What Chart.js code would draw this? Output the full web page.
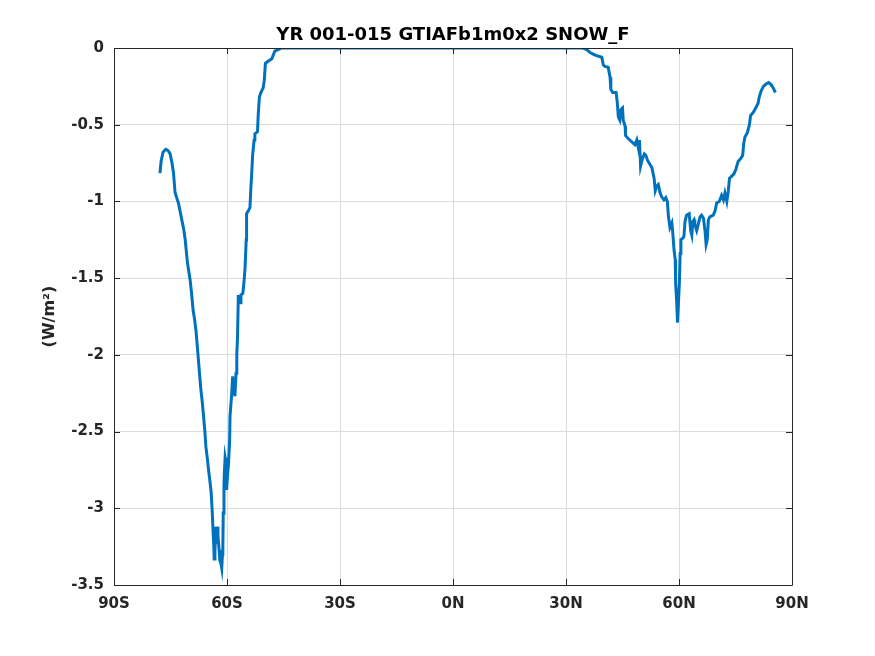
<!DOCTYPE html>
<html>
<head>
<meta charset="utf-8">
<script src="https://cdn.jsdelivr.net/npm/chart.js@4/dist/chart.umd.min.js"></script>
<style>
  html, body { margin: 0; padding: 0; background: #fff; }
  #wrap { width: 875px; height: 656px; }
</style>
</head>
<body>
<div id="wrap"><canvas id="chart-snow"></canvas></div>
<script>
// zonal mean SNOW_F (W/m2) against latitude (deg, negative = south)
const lats = [
  -77.8, -77.5, -77.0, -76.5, -76.2, -75.6, -75.1, -74.6, -74.2, -73.8,
  -73.3, -72.9, -72.4, -72.0, -71.5, -71.1, -70.5, -69.8, -69.4, -69.0,
  -68.6, -68.2, -67.6, -67.2, -67.0, -66.6, -66.3, -65.9, -65.6, -65.2,
  -64.9, -64.5, -64.2, -63.9, -63.7, -63.5, -63.4, -63.2, -63.0, -62.8,
  -62.7, -62.6, -62.4, -62.1, -61.9, -61.6, -61.4, -61.2, -61.1, -61.0,
  -60.8, -60.7, -60.5, -60.3, -60.1, -59.9, -59.6, -59.3, -59.2, -58.8,
  -58.5, -58.3, -58.1, -57.9, -57.6, -57.4, -57.2, -57.0, -56.8, -56.5,
  -56.3, -55.8, -55.5, -55.2, -54.9, -54.8, -54.3, -53.9, -53.7, -53.4,
  -53.2, -52.8, -52.6, -51.9, -51.7, -51.4, -51.0, -50.4, -50.1, -49.8,
  -49.0, -48.1, -47.7, -47.3, -46.4, -45.5, -40, -30, -20, -10,
  0, 10, 20, 30, 34.5, 35.5, 36.4, 37.2, 38.1, 39.5,
  39.9, 40.3, 41.2, 41.7, 41.9, 42.4, 43.3, 43.6, 43.9, 44.3,
  44.6, 45.0, 45.2, 45.7, 45.8, 46.5, 47.4, 48.3, 48.8, 49.2,
  49.5, 49.8, 50.3, 50.8, 51.2, 51.6, 52.3, 52.8, 53.4, 53.7,
  54.1, 54.5, 55.0, 55.4, 56.0, 56.5, 56.9, 57.2, 57.6, 58.1,
  58.3, 58.7, 59.0, 59.1, 59.4, 59.6, 59.8, 60.1, 60.3, 60.5,
  61.0, 61.3, 61.6, 62.0, 62.7, 63.1, 63.4, 63.7, 64.0, 64.2,
  64.7, 65.1, 65.6, 66.0, 66.5, 66.9, 67.2, 67.5, 67.8, 68.2,
  69.1, 69.6, 70.0, 70.7, 71.3, 71.8, 72.2, 72.7, 73.1, 73.4,
  74.0, 74.6, 75.1, 75.7, 76.4, 76.9, 77.2, 77.5, 78.1, 78.7,
  79.0, 79.7, 80.4, 81.0, 81.3, 81.8, 82.4, 83.1, 83.8, 84.5,
  85.0, 85.6
];

const snowF = [
  -0.815, -0.74, -0.68, -0.665, -0.66, -0.67, -0.69, -0.75, -0.815, -0.94,
  -0.98, -1.01, -1.07, -1.12, -1.18, -1.25, -1.40, -1.51, -1.60, -1.71,
  -1.77, -1.85, -2.03, -2.15, -2.21, -2.30, -2.38, -2.49, -2.60, -2.68,
  -2.75, -2.83, -2.90, -3.03, -3.15, -3.25, -3.33, -3.28, -3.12, -3.20,
  -3.23, -3.12, -3.18, -3.27, -3.34, -3.36, -3.39, -3.30, -3.25, -3.03,
  -2.85, -2.77, -2.67, -2.70, -2.88, -2.80, -2.71, -2.56, -2.40, -2.27,
  -2.14, -2.20, -2.23, -2.27, -2.12, -2.00, -1.88, -1.62, -1.62, -1.66,
  -1.61, -1.60, -1.53, -1.43, -1.25, -1.08, -1.06, -1.04, -0.93, -0.80,
  -0.70, -0.60, -0.56, -0.545, -0.43, -0.32, -0.29, -0.26, -0.21, -0.10,
  -0.085, -0.07, -0.045, -0.02, -0.01, 0, 0, 0, 0, 0,
  0, 0, 0, 0, 0, -0.01, -0.03, -0.04, -0.05, -0.06,
  -0.11, -0.12, -0.125, -0.19, -0.27, -0.29, -0.29, -0.35, -0.45, -0.47,
  -0.40, -0.39, -0.47, -0.51, -0.57, -0.59, -0.61, -0.63, -0.60, -0.65,
  -0.60, -0.77, -0.72, -0.69, -0.70, -0.73, -0.76, -0.78, -0.85, -0.93,
  -0.90, -0.89, -0.945, -0.97, -0.99, -0.975, -1.00, -1.10, -1.17, -1.14,
  -1.19, -1.32, -1.38, -1.53, -1.66, -1.79, -1.69, -1.53, -1.34, -1.25,
  -1.24, -1.23, -1.13, -1.09, -1.08, -1.19, -1.22, -1.13, -1.12, -1.15,
  -1.19, -1.15, -1.10, -1.09, -1.11, -1.19, -1.28, -1.25, -1.12, -1.10,
  -1.09, -1.06, -1.01, -1.00, -0.96, -0.99, -0.945, -1.00, -0.93, -0.85,
  -0.835, -0.82, -0.79, -0.74, -0.72, -0.70, -0.62, -0.58, -0.555, -0.50,
  -0.44, -0.42, -0.39, -0.36, -0.32, -0.28, -0.25, -0.235, -0.225, -0.24,
  -0.26, -0.29
];

const xTickValues = [-90, -60, -30, 0, 30, 60, 90];
const xTickLabels = ["90S", "60S", "30S", "0N", "30N", "60N", "90N"];
const yTickValues = [0, -0.5, -1, -1.5, -2, -2.5, -3, -3.5];
const yTickLabels = ["0", "-0.5", "-1", "-1.5", "-2", "-2.5", "-3", "-3.5"];

const AXIS_COLOR = "#262626";
const TICK_FONT = { family: "DejaVu Sans", size: 15, weight: "bold" };

/** MATLAB-style box: top/right edges and ticks pointing into the plot. */
const boxTicks = {
  id: "boxTicks",
  afterDraw(chart) {
    const { ctx, chartArea: a, scales } = chart;
    const len = 6;
    ctx.save();
    ctx.strokeStyle = AXIS_COLOR;
    ctx.lineWidth = 1;
    ctx.beginPath();
    ctx.rect(Math.round(a.left) + 0.5, Math.round(a.top) + 0.5,
      Math.round(a.right - a.left), Math.round(a.bottom - a.top));
    xTickValues.forEach((v) => {
      const px = Math.round(scales.x.getPixelForValue(v)) + 0.5;
      ctx.moveTo(px, a.bottom); ctx.lineTo(px, a.bottom - len);
      ctx.moveTo(px, a.top); ctx.lineTo(px, a.top + len);
    });
    yTickValues.forEach((v) => {
      const py = Math.round(scales.y.getPixelForValue(v)) + 0.5;
      ctx.moveTo(a.left, py); ctx.lineTo(a.left + len, py);
      ctx.moveTo(a.right, py); ctx.lineTo(a.right - len, py);
    });
    ctx.stroke();
    ctx.restore();
  },
};

new Chart(document.getElementById("chart-snow"), {
  type: "line",
  data: {
    datasets: [{
      label: "SNOW_F",
      data: lats.map((lat, i) => ({ x: lat, y: snowF[i] })),
      borderColor: "#0072BD",
      borderWidth: 3,
      pointRadius: 0,
      tension: 0,
      fill: false,
    }],
  },
  options: {
    responsive: true,
    maintainAspectRatio: false,
    animation: false,
    layout: { padding: { left: 40, right: 83, top: 0, bottom: 0 } },
    plugins: {
      legend: { display: false },
      tooltip: { enabled: false },
    },
    scales: {
      x: {
        type: "linear",
        min: -90,
        max: 90,
        afterBuildTicks: (scale) => {
          scale.ticks = xTickValues.map((v) => ({ value: v }));
        },
        afterFit: (scale) => { scale.height = 71; },
        ticks: {
          color: AXIS_COLOR,
          font: TICK_FONT,
          padding: 10,
          maxRotation: 0,
          callback: (v) => xTickLabels[xTickValues.indexOf(v)],
        },
        grid: { color: "#dcdcdc", drawTicks: false },
        border: { display: false },
      },
      // top axis only carries the title so it is centred over the plot box
      xTop: {
        type: "linear",
        position: "top",
        min: -90,
        max: 90,
        afterFit: (scale) => { scale.height = 48; },
        ticks: { display: false },
        grid: { display: false },
        border: { display: false },
        title: {
          display: true,
          text: "YR 001-015 GTIAFb1m0x2 SNOW_F",
          color: "#000",
          font: { family: "DejaVu Sans", size: 18, weight: "bold" },
          padding: { top: 25, bottom: 0 },
        },
      },
      y: {
        min: -3.5,
        max: 0,
        afterBuildTicks: (scale) => {
          scale.ticks = yTickValues.map((v) => ({ value: v }));
        },
        afterFit: (scale) => { scale.width = 74; },
        ticks: {
          color: AXIS_COLOR,
          font: TICK_FONT,
          padding: 10,
          callback: (v) => yTickLabels[yTickValues.indexOf(v)],
        },
        grid: { color: "#dcdcdc", drawTicks: false },
        border: { display: false },
        title: {
          display: true,
          text: "(W/m²)",
          color: AXIS_COLOR,
          font: { family: "DejaVu Sans", size: 16, weight: "bold" },
          padding: { top: 0, bottom: 0 },
        },
      },
    },
  },
  plugins: [boxTicks],
});
</script>
</body>
</html>
